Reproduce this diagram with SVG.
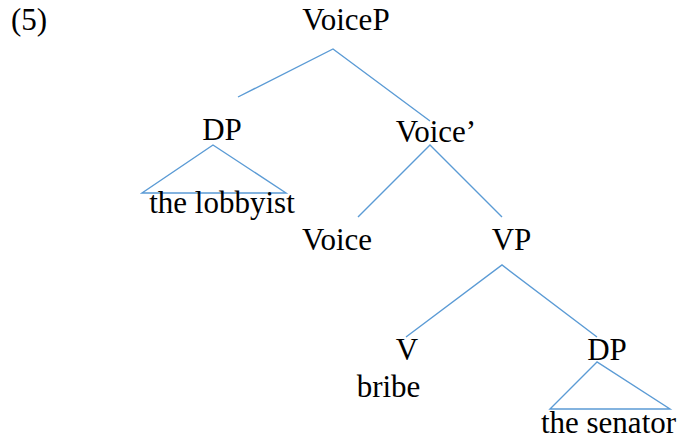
<svg xmlns="http://www.w3.org/2000/svg" width="678" height="440" viewBox="0 0 678 440">
<style>
.e{stroke:#5B9BD5;stroke-width:1.4;fill:none}
</style>
<rect width="678" height="440" fill="#fff"/>
<g font-family="Liberation Serif" font-size="31" fill="#000">
<text x="11" y="30">(5)</text>
<g id="connectors">
<polyline class="e" points="238,97 333,49 430,121"/>
<polyline class="e" points="358,217 430,145 502,217"/>
<polyline class="e" points="406,337 502,265 597,337"/>
<polygon class="e" points="213,145 142,193 286,193"/>
<polygon class="e" points="597,362 550,409 670,409"/>
</g>
<g text-anchor="middle">
<g id="VoiceP"><text x="346" y="30">VoiceP</text></g>
<g id="DP1"><text x="222" y="140">DP</text><text x="222" y="213">the lobbyist</text></g>
<g id="VoiceBar"><text x="436" y="142">Voice&#8217;</text></g>
<g id="Voice"><text x="337" y="250">Voice</text></g>
<g id="VP"><text x="511.5" y="250">VP</text></g>
<g id="V"><text x="407" y="360">V</text><text x="388.5" y="397">bribe</text></g>
<g id="DP2"><text x="607" y="360">DP</text><text x="608.5" y="433">the senator</text></g>
</g>
</g>
</svg>
